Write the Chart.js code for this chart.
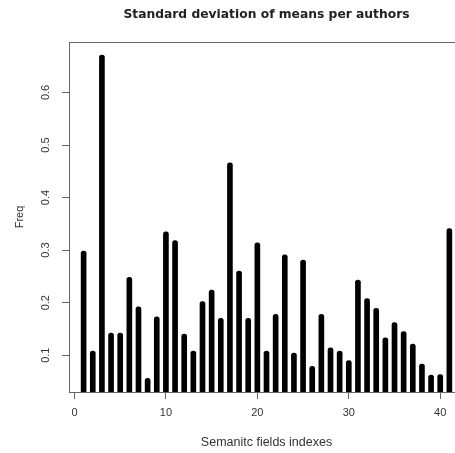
<!DOCTYPE html>
<html>
<head>
<meta charset="utf-8">
<script src="https://cdn.jsdelivr.net/npm/chart.js@4"></script>
<style>
  html, body { margin: 0; padding: 0; background: #fff; overflow: hidden; }
  #wrap { width: 532px; height: 453px; }
</style>
</head>
<body>
<div id="wrap"><canvas id="grafico" width="532" height="453"></canvas></div>
<script>
// semantic field index -> standard deviation of means
const indices = [1,2,3,4,5,6,7,8,9,10,11,12,13,14,15,16,17,18,19,20,
                 21,22,23,24,25,26,27,28,29,30,31,32,33,34,35,36,37,38,39,40,41]
const freq = [0.298,0.108,0.671,0.142,0.142,0.248,0.192,0.056,0.173,0.335,
              0.318,0.140,0.108,0.202,0.224,0.170,0.466,0.260,0.170,0.314,
              0.108,0.178,0.291,0.104,0.281,0.079,0.178,0.114,0.108,0.090,
              0.243,0.208,0.189,0.133,0.162,0.145,0.121,0.083,0.062,0.063,0.341]
const xTicks = [0,10,20,30,40]
const yTicks = [0.1,0.2,0.3,0.4,0.5,0.6]

const axisCor = '#666'
const textoCor = '#333'
const fonte = 'Liberation Sans, Arial, sans-serif'

// box round the plot region, like R's box()
const caixa = {
  id: 'caixa',
  afterDraw(chart){
    const {ctx, chartArea: a} = chart
    ctx.save()
    ctx.strokeStyle = axisCor
    ctx.lineWidth = 1
    ctx.strokeRect(a.left + 0.5, a.top + 0.5, a.right - a.left, a.bottom - a.top)
    ctx.restore()
  }
}

new Chart(document.getElementById('grafico'), {
  type: 'bar',
  data: {
    datasets: [{
      label: 'Freq',
      data: indices.map((x, i) => ({x: x, y: freq[i]})),
      xAxisID: 'x',
      yAxisID: 'y',
      backgroundColor: '#000',
      barThickness: 5,
      borderRadius: {topLeft: 2.5, topRight: 2.5}
    }]
  },
  options: {
    responsive: false,
    animation: false,
    layout: { padding: {left: 0, right: 68, top: 0, bottom: 0} },
    plugins: {
      legend: { display: false },
      tooltip: { enabled: false },
      title: { display: false }
    },
    scales: {
      x: {
        type: 'linear',
        min: -0.6,
        max: 42.6,
        offset: false,
        afterBuildTicks: s => { s.ticks = xTicks.map(v => ({value: v})) },
        afterFit: s => { s.height = 61 },
        grid: { offset: false, drawOnChartArea: false, drawTicks: true, tickLength: 7, color: axisCor },
        border: { display: true, color: axisCor },
        ticks: { color: textoCor, padding: 7, font: { family: fonte, size: 11 }, maxRotation: 0 },
        title: {
          display: true,
          text: 'Semanitc fields indexes',
          color: textoCor,
          font: { family: fonte, size: 12.5 },
          padding: { top: 0, bottom: 3 }
        }
      },
      // top axis only carries the main title, centred over the plot region
      topo: {
        type: 'linear',
        position: 'top',
        min: -0.6,
        max: 42.6,
        afterFit: s => { s.height = 42 },
        grid: { display: false },
        border: { display: false },
        ticks: { display: false },
        title: {
          display: true,
          text: 'Standard deviation of means per authors',
          color: '#222',
          font: { family: 'DejaVu Sans, Verdana, sans-serif', size: 12.3, weight: 'bold' },
          padding: { top: 7, bottom: 0 }
        }
      },
      y: {
        min: 0.03,
        max: 0.696,
        afterBuildTicks: s => { s.ticks = yTicks.map(v => ({value: v})) },
        afterFit: s => { s.width = 69 },
        grid: { drawOnChartArea: false, drawTicks: true, tickLength: 7, color: axisCor },
        border: { display: true, color: axisCor },
        ticks: {
          color: textoCor, padding: 8, minRotation: 90, maxRotation: 90,
          crossAlign: 'center', font: { family: fonte, size: 11 }
        },
        title: {
          display: true,
          text: 'Freq',
          color: textoCor,
          font: { family: fonte, size: 11 },
          padding: { top: 13, bottom: 0 }
        }
      }
    }
  },
  plugins: [caixa]
})
</script>
</body>
</html>
